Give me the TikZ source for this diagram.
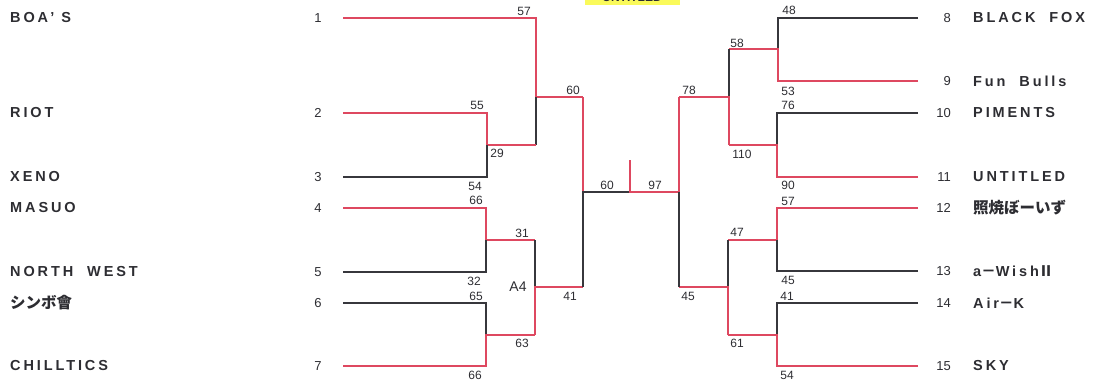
\documentclass[tikz,border=0pt]{standalone}
\usepackage{fontspec}
\setmainfont{Liberation Sans}
\newfontfamily\jpfont{Noto Sans CJK JP}
\definecolor{win}{RGB}{222,72,96}
\definecolor{lose}{RGB}{55,55,60}
\definecolor{ink}{RGB}{45,45,50}
\definecolor{hl}{RGB}{250,250,90}
\newcommand{\jp}[1]{{\jpfont\bfseries #1}}
\tikzset{
  winline/.style={draw=win,line width=1.3pt},
  loseline/.style={draw=lose,line width=1.1pt},
  score/.style={inner sep=0pt,text=ink,font=\fontsize{12}{12}\selectfont},
  seed/.style={inner sep=0pt,text=ink,font=\fontsize{13}{13}\selectfont},
  team/.style={inner sep=0pt,anchor=west,text=ink,font=\fontsize{14.5}{14.5}\selectfont\bfseries\addfontfeatures{LetterSpace=20}},
  jteam/.style={inner sep=0pt,anchor=west,text=ink,font=\fontsize{15.5}{15.5}\selectfont\jpfont\bfseries},
}
\begin{document}
\begin{tikzpicture}[x=1pt,y=-1pt]
\useasboundingbox (0,0) rectangle (1095,381);
\clip (0,0) rectangle (1095,381);
% highlighted title (cut off at top)
\fill[hl] (585,-10) rectangle (680,5);
\node[score,font=\fontsize{12}{12}\selectfont\bfseries] (title) at (632,-3) {UNTITLED};
% ---------- left names and seeds
\node[team] (n1) at (10,18) {BOA' S};
\node[team] (n2) at (10,113) {RIOT};
\node[team] (n3) at (10,177) {XENO};
\node[team] (n4) at (10,208) {MASUO};
\node[team] (n5) at (10,272) {NORTH\ \ WEST};
\node[jteam] (n6) at (10,303) {シンボ會};
\node[team] (n7) at (10,366) {CHILLTICS};
\foreach \i/\y in {1/18,2/113,3/177,4/208,5/272,6/303,7/366}
  \node[seed] (k\i) at (318,\y) {\i};
% ---------- right names and seeds
\node[team] (n8) at (973,18) {BLACK\ \ FOX};
\node[team] (n9) at (973,81) {Fun\ \ Bulls};
\node[team] (n10) at (973,113) {PIMENTS};
\node[team] (n11) at (973,177) {UNTITLED};
\node[jteam] (n12) at (973,208) {照焼ぼーいず};
\node[team] (n13) at (973,271) {a\jp{－}Wish\jp{Ⅱ}};
\node[team] (n14) at (973,303) {Air\jp{－}K};
\node[team] (n15) at (973,366) {SKY};
\foreach \i/\y in {8/18,9/81,10/113,11/177,12/208,13/271,14/303,15/366}
  \node[seed,anchor=east] (k\i) at (951,\y) {\i};
% ---------- left coordinates
\coordinate (a1) at (343,18);  \coordinate (b1) at (536,18);
\coordinate (a2) at (343,113); \coordinate (b2) at (487,113);
\coordinate (a3) at (343,177); \coordinate (b3) at (487,177);
\coordinate (j23) at (487,145); \coordinate (q23) at (536,145);
\coordinate (j13) at (536,97);  \coordinate (q13) at (583,97);
\coordinate (a4) at (343,208); \coordinate (b4) at (486,208);
\coordinate (a5) at (343,272); \coordinate (b5) at (486,272);
\coordinate (j45) at (486,240); \coordinate (q45) at (535,240);
\coordinate (a6) at (343,303); \coordinate (b6) at (486,303);
\coordinate (a7) at (343,366); \coordinate (b7) at (486,366);
\coordinate (j67) at (486,335); \coordinate (q67) at (535,335);
\coordinate (j47) at (535,287); \coordinate (q47) at (583,287);
\coordinate (jL) at (583,192); \coordinate (cT) at (630,160); \coordinate (cB) at (630,192);
% ---------- right coordinates
\coordinate (a8) at (918,18);  \coordinate (b8) at (778,18);
\coordinate (a9) at (918,81);  \coordinate (b9) at (778,81);
\coordinate (j89) at (778,49); \coordinate (q89) at (729,49);
\coordinate (a10) at (918,113); \coordinate (b10) at (777,113);
\coordinate (a11) at (918,177); \coordinate (b11) at (777,177);
\coordinate (j1011) at (777,145); \coordinate (q1011) at (729,145);
\coordinate (j811) at (729,97); \coordinate (q811) at (679,97);
\coordinate (a12) at (918,208); \coordinate (b12) at (777,208);
\coordinate (a13) at (918,271); \coordinate (b13) at (777,271);
\coordinate (j1213) at (777,240); \coordinate (q1213) at (728,240);
\coordinate (a14) at (918,303); \coordinate (b14) at (777,303);
\coordinate (a15) at (918,366); \coordinate (b15) at (777,366);
\coordinate (j1415) at (777,335); \coordinate (q1415) at (728,335);
\coordinate (j1215) at (728,287); \coordinate (q1215) at (679,287);
\coordinate (jR) at (679,192);
% ---------- left bracket
\draw[winline] (a1) -- (b1) -- (j13) -- (q13);
\draw[loseline] (j13) -- (q23);
\draw[winline] (a2) -- (b2) -- (j23) -- (q23);
\draw[loseline] (a3) -- (b3) -- (j23);
\draw[winline] (a4) -- (b4) -- (j45) -- (q45);
\draw[loseline] (a5) -- (b5) -- (j45);
\draw[loseline] (a6) -- (b6) -- (j67);
\draw[winline] (a7) -- (b7) -- (j67) -- (q67);
\draw[loseline] (q45) -- (j47);
\draw[winline] (q67) -- (j47) -- (q47);
\draw[winline] (q13) -- (jL);
\draw[loseline] (q47) -- (jL) -- (cB);
\draw[winline] (cT) -- (cB) -- (jR);
% ---------- right bracket
\draw[loseline] (a8) -- (b8) -- (j89);
\draw[winline] (a9) -- (b9) -- (j89) -- (q89);
\draw[loseline] (a10) -- (b10) -- (j1011);
\draw[winline] (a11) -- (b11) -- (j1011) -- (q1011);
\draw[loseline] (q89) -- (j811);
\draw[winline] (q1011) -- (j811) -- (q811);
\draw[winline] (a12) -- (b12) -- (j1213) -- (q1213);
\draw[loseline] (a13) -- (b13) -- (j1213);
\draw[loseline] (a14) -- (b14) -- (j1415);
\draw[winline] (a15) -- (b15) -- (j1415) -- (q1415);
\draw[loseline] (q1213) -- (j1215);
\draw[winline] (q1415) -- (j1215) -- (q1215);
\draw[winline] (q811) -- (jR);
\draw[loseline] (q1215) -- (jR);
% ---------- scores left
\node[score] (s1) at (524,11) {57};
\node[score] (s2) at (477,105) {55};
\node[score] (s3) at (475,186) {54};
\node[score] (s23) at (497,153) {29};
\node[score] (s13) at (573,90) {60};
\node[score] (s4) at (476,200) {66};
\node[score] (s5) at (474,281) {32};
\node[score] (s45) at (522,233) {31};
\node[score] (s6) at (476,296) {65};
\node[score] (s7) at (475,375) {66};
\node[score] (s67) at (522,343) {63};
\node[score] (s47) at (570,296) {41};
\node[score,font=\fontsize{14}{14}\selectfont] (a4lbl) at (518,287) {A4};
\node[score] (sL) at (607,185) {60};
\node[score] (sR) at (655,185) {97};
% ---------- scores right
\node[score] (s8) at (789,10) {48};
\node[score] (s9) at (788,91) {53};
\node[score] (s89) at (737,43) {58};
\node[score] (s10) at (788,105) {76};
\node[score] (s11) at (788,185) {90};
\node[score] (s1011) at (742,154) {110};
\node[score] (s811) at (689,90) {78};
\node[score] (s12) at (788,201) {57};
\node[score] (s13b) at (788,280) {45};
\node[score] (s1213) at (737,232) {47};
\node[score] (s14) at (787,296) {41};
\node[score] (s15) at (787,375) {54};
\node[score] (s1415) at (737,343) {61};
\node[score] (s1215) at (688,296) {45};
\end{tikzpicture}
\end{document}
